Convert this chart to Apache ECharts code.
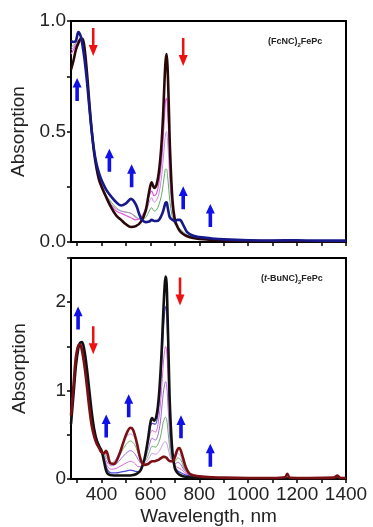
<!DOCTYPE html>
<html>
<head>
<meta charset="utf-8">
<script src="https://cdn.jsdelivr.net/npm/echarts@6/dist/echarts.min.js"></script>
<style>
  html, body { margin: 0; padding: 0; background: #fff; }
  #main { width: 373px; height: 527px; }
</style>
</head>
<body>
<div id="main"></div>
<script>
// ---- top panel: (FcNC)2FePc ----
var wlTop = [275, 285, 295, 305, 315, 322, 330, 340, 350, 360, 370, 380, 390, 400, 420, 440, 460, 480, 500, 520,
  540, 560, 580, 595, 605, 615, 625, 635, 645, 652, 658, 662, 666, 670, 675, 680, 690, 700, 710, 720,
  735, 750, 775, 800, 850, 900, 1000, 1100, 1200, 1300, 1400];
var topStart = [0.78, 0.82, 0.87, 0.90, 0.92, 0.92, 0.88, 0.77, 0.63, 0.50, 0.40, 0.33, 0.28, 0.25, 0.20, 0.155, 0.12, 0.10, 0.08, 0.068,
  0.072, 0.09, 0.14, 0.23, 0.27, 0.245, 0.26, 0.32, 0.44, 0.58, 0.74, 0.82, 0.85, 0.79, 0.62, 0.42, 0.19, 0.10, 0.07, 0.05,
  0.035, 0.026, 0.018, 0.014, 0.010, 0.007, 0.005, 0.004, 0.004, 0.003, 0.003];
var topMag = [0.85, 0.87, 0.89, 0.90, 0.91, 0.90, 0.86, 0.76, 0.62, 0.50, 0.40, 0.33, 0.28, 0.25, 0.20, 0.165, 0.14, 0.13, 0.12, 0.11,
  0.10, 0.11, 0.15, 0.21, 0.23, 0.21, 0.22, 0.27, 0.36, 0.47, 0.58, 0.64, 0.65, 0.60, 0.48, 0.33, 0.16, 0.09, 0.065, 0.05,
  0.035, 0.026, 0.018, 0.014, 0.010, 0.007, 0.005, 0.004, 0.004, 0.003, 0.003];
var topViolet = [0.87, 0.88, 0.90, 0.91, 0.91, 0.90, 0.85, 0.75, 0.62, 0.50, 0.40, 0.34, 0.29, 0.26, 0.21, 0.17, 0.15, 0.14, 0.135, 0.13,
  0.11, 0.105, 0.13, 0.18, 0.20, 0.18, 0.19, 0.22, 0.29, 0.37, 0.45, 0.49, 0.50, 0.46, 0.37, 0.26, 0.14, 0.085, 0.07, 0.055,
  0.04, 0.028, 0.02, 0.015, 0.011, 0.008, 0.006, 0.005, 0.005, 0.004, 0.004];
var topGreen = [0.88, 0.89, 0.90, 0.91, 0.91, 0.89, 0.85, 0.75, 0.62, 0.50, 0.40, 0.34, 0.29, 0.26, 0.21, 0.18, 0.155, 0.14, 0.135, 0.13,
  0.115, 0.10, 0.11, 0.14, 0.155, 0.14, 0.145, 0.17, 0.21, 0.26, 0.31, 0.33, 0.33, 0.30, 0.24, 0.18, 0.11, 0.08, 0.07, 0.06,
  0.045, 0.032, 0.022, 0.017, 0.012, 0.009, 0.006, 0.005, 0.005, 0.004, 0.004];
var topEnd = [0.91, 0.905, 0.91, 0.95, 0.93, 0.89, 0.83, 0.73, 0.61, 0.50, 0.41, 0.35, 0.31, 0.28, 0.235, 0.205, 0.18, 0.165, 0.175, 0.195,
  0.17, 0.11, 0.09, 0.093, 0.10, 0.095, 0.095, 0.10, 0.12, 0.14, 0.165, 0.178, 0.18, 0.16, 0.13, 0.11, 0.10, 0.095, 0.10, 0.10,
  0.075, 0.045, 0.028, 0.022, 0.016, 0.012, 0.008, 0.007, 0.008, 0.006, 0.006];

// ---- bottom panel: (t-BuNC)2FePc ----
var wlBot = [275, 285, 295, 305, 312, 320, 330, 340, 350, 360, 370, 380, 390, 400, 410, 418, 425, 435, 450, 470,
  490, 505, 518, 530, 545, 560, 575, 590, 600, 607, 615, 625, 635, 645, 652, 658, 662, 666, 670, 675,
  680, 690, 700, 710, 718, 730, 745, 760, 780, 800, 850, 900, 1000, 1100, 1150, 1160, 1170, 1250, 1350, 1365,
  1375, 1400];
var botStart = [0.62, 0.95, 1.28, 1.48, 1.54, 1.55, 1.45, 1.25, 1.00, 0.75, 0.56, 0.44, 0.37, 0.32, 0.20, 0.10, 0.06, 0.045, 0.04, 0.04,
  0.04, 0.04, 0.04, 0.045, 0.06, 0.10, 0.22, 0.45, 0.64, 0.69, 0.66, 0.72, 0.95, 1.40, 1.85, 2.18, 2.29, 2.22, 1.85, 1.30,
  0.80, 0.30, 0.12, 0.07, 0.05, 0.035, 0.025, 0.02, 0.015, 0.012, 0.01, 0.008, 0.006, 0.005, 0.005, 0.006, 0.005, 0.005, 0.005, 0.006,
  0.005, 0.005];
var botEnd = [0.72, 1.05, 1.38, 1.51, 1.52, 1.45, 1.28, 1.05, 0.80, 0.60, 0.48, 0.40, 0.35, 0.30, 0.29, 0.32, 0.28, 0.18, 0.17, 0.26,
  0.42, 0.53, 0.58, 0.55, 0.40, 0.22, 0.16, 0.17, 0.19, 0.20, 0.20, 0.21, 0.22, 0.24, 0.25, 0.25, 0.245, 0.24, 0.225, 0.21,
  0.20, 0.20, 0.25, 0.33, 0.35, 0.27, 0.13, 0.06, 0.04, 0.03, 0.02, 0.015, 0.012, 0.012, 0.02, 0.06, 0.015, 0.012, 0.015, 0.04,
  0.015, 0.012];
var wlMid = [275, 290, 305, 320, 335, 350, 365, 380, 395, 410, 425, 440, 460, 480, 500, 518, 535, 550, 565, 580,
  595, 607, 620, 635, 645, 652, 658, 662, 666, 670, 675, 680, 690, 700, 712, 725, 740, 760, 800, 900,
  1000, 1400];
var botMid1 = [0.62, 1.12, 1.50, 1.54, 1.35, 0.98, 0.65, 0.45, 0.36, 0.22, 0.10, 0.07, 0.07, 0.08, 0.09, 0.10, 0.09, 0.08, 0.12, 0.28,
  0.52, 0.63, 0.62, 0.85, 1.25, 1.62, 1.88, 1.95, 1.90, 1.62, 1.15, 0.72, 0.28, 0.13, 0.09, 0.07, 0.05, 0.035, 0.02, 0.01,
  0.008, 0.006];
var botMid2 = [0.64, 1.13, 1.50, 1.52, 1.32, 0.95, 0.63, 0.44, 0.35, 0.24, 0.14, 0.11, 0.12, 0.15, 0.18, 0.20, 0.18, 0.14, 0.15, 0.27,
  0.46, 0.55, 0.53, 0.70, 1.00, 1.28, 1.45, 1.50, 1.46, 1.25, 0.90, 0.58, 0.26, 0.15, 0.13, 0.11, 0.07, 0.045, 0.025, 0.012,
  0.009, 0.007];
var botMid3 = [0.66, 1.15, 1.51, 1.50, 1.28, 0.92, 0.60, 0.43, 0.34, 0.26, 0.18, 0.15, 0.17, 0.23, 0.29, 0.32, 0.29, 0.22, 0.17, 0.24,
  0.38, 0.46, 0.44, 0.55, 0.76, 0.96, 1.07, 1.10, 1.07, 0.92, 0.67, 0.44, 0.22, 0.17, 0.19, 0.16, 0.09, 0.05, 0.028, 0.013,
  0.01, 0.008];
var botMid4 = [0.68, 1.17, 1.51, 1.47, 1.24, 0.88, 0.57, 0.42, 0.33, 0.28, 0.22, 0.17, 0.21, 0.30, 0.39, 0.43, 0.39, 0.29, 0.19, 0.21,
  0.30, 0.37, 0.36, 0.42, 0.53, 0.64, 0.69, 0.70, 0.68, 0.59, 0.45, 0.33, 0.21, 0.20, 0.24, 0.21, 0.11, 0.055, 0.03, 0.014,
  0.011, 0.009];
var botMid5 = [0.70, 1.19, 1.52, 1.45, 1.20, 0.85, 0.55, 0.41, 0.32, 0.29, 0.25, 0.18, 0.23, 0.36, 0.47, 0.51, 0.47, 0.34, 0.19, 0.19,
  0.24, 0.29, 0.28, 0.31, 0.36, 0.40, 0.42, 0.42, 0.41, 0.37, 0.31, 0.26, 0.20, 0.22, 0.29, 0.25, 0.12, 0.06, 0.032, 0.015,
  0.012, 0.01];

// arrows [wavelength, absorption]
var topUp = [[300, 0.69], [432, 0.37], [523, 0.30], [734, 0.20], [845, 0.12]];
var topDown = [[366, 0.905], [734, 0.86]];
var botUp = [[304, 1.82], [419, 0.60], [511, 0.83], [725, 0.59], [845, 0.27]];
var botDown = [[366, 1.57], [721, 2.12]];

var xTicks = [300, 400, 500, 600, 700, 800, 900, 1000, 1100, 1200, 1300, 1400];
var xLabels = [400, 600, 800, 1000, 1200, 1400];

var FONT = 'Liberation Sans, Arial, sans-serif';
var upArrow = 'path://M5,0L10,10L7,10L7,24L3,24L3,10L0,10Z';
var downArrow = 'path://M3.6,0L6.4,0L6.4,17L10,17L5,28L0,17L3.6,17Z';

function pairs(wl, vals) {
  return wl.map(function (w, i) { return [w, vals[i]]; });
}
function curve(name, wl, vals, color, width, idx) {
  return {
    name: name, type: 'line', xAxisIndex: idx, yAxisIndex: idx,
    data: pairs(wl, vals), showSymbol: false, smooth: 0.35, silent: true,
    lineStyle: { color: color, width: width }
  };
}
function arrows(data, sym, size, color, idx) {
  return {
    type: 'scatter', xAxisIndex: idx, yAxisIndex: idx, data: data,
    symbol: sym, symbolSize: size, silent: true, z: 5,
    itemStyle: { color: color, opacity: 1 }
  };
}
function xAxisCfg(idx, showLabels) {
  return {
    type: 'value', gridIndex: idx, min: 275, max: 1400,
    name: showLabels ? 'Wavelength, nm' : '', nameLocation: 'middle', nameGap: 28,
    nameTextStyle: { fontSize: 19, color: '#222', fontFamily: FONT },
    axisLine: { show: true, onZero: false, lineStyle: { color: '#000', width: 2 } },
    axisTick: { show: true, inside: false, length: 4, customValues: xTicks, lineStyle: { color: '#000', width: 1.5 } },
    axisLabel: {
      show: showLabels, customValues: xLabels, fontSize: 19, color: '#222', fontFamily: FONT, margin: 6,
      formatter: function (v) { return String(v); }
    },
    splitLine: { show: false }
  };
}
function yAxisCfg(idx, max, interval, fmt) {
  return {
    type: 'value', gridIndex: idx, min: 0, max: max, interval: interval,
    name: 'Absorption', nameLocation: 'middle', nameGap: 42,
    nameTextStyle: { fontSize: 19, color: '#222', fontFamily: FONT },
    axisLine: { show: true, lineStyle: { color: '#000', width: 2 } },
    axisTick: { show: true, inside: false, length: 4, lineStyle: { color: '#000', width: 1.5 } },
    axisLabel: { fontSize: 19, color: '#222', fontFamily: FONT, margin: 5, formatter: fmt },
    splitLine: { show: false }
  };
}

var chart = echarts.init(document.getElementById('main'), null, { renderer: 'canvas' });
var option = {
  animation: false,
  backgroundColor: '#fff',
  title: [
    {
      left: 263, top: 31,
      text: '{a|(FcNC)}{s|2}{a|FePc}',
      textStyle: { rich: {
        a: { fontSize: 9, fontWeight: 'bold', color: '#222', fontFamily: FONT, lineHeight: 12 },
        s: { fontSize: 6, fontWeight: 'bold', color: '#222', fontFamily: FONT, lineHeight: 6, verticalAlign: 'bottom' }
      } }
    },
    {
      left: 256, top: 268,
      text: '{a|(}{i|t}{a|-BuNC)}{s|2}{a|FePc}',
      textStyle: { rich: {
        a: { fontSize: 9, fontWeight: 'bold', color: '#222', fontFamily: FONT, lineHeight: 12 },
        i: { fontSize: 9, fontWeight: 'bold', fontStyle: 'italic', color: '#222', fontFamily: FONT, lineHeight: 12 },
        s: { fontSize: 6, fontWeight: 'bold', color: '#222', fontFamily: FONT, lineHeight: 6, verticalAlign: 'bottom' }
      } }
    }
  ],
  grid: [
    { left: 71, width: 275, top: 21, height: 221, show: true, borderColor: '#000', borderWidth: 2, backgroundColor: 'transparent' },
    { left: 71, width: 275, top: 258, height: 224, show: true, borderColor: '#000', borderWidth: 2, backgroundColor: 'transparent' }
  ],
  xAxis: [xAxisCfg(0, false), xAxisCfg(1, true)],
  yAxis: [
    yAxisCfg(0, 1, 0.25, function (v) { return Math.abs(v * 2 - Math.round(v * 2)) < 1e-6 ? v.toFixed(1) : ''; }),
    yAxisCfg(1, 2.5, 0.5, function (v) { return Math.abs(v - Math.round(v)) < 1e-6 ? String(v) : ''; })
  ],
  series: [
    curve('green', wlTop, topGreen, '#5fae5f', 1, 0),
    curve('violet', wlTop, topViolet, '#c58be8', 1, 0),
    curve('magenta', wlTop, topMag, '#e05ad8', 1.2, 0),
    curve('start', wlTop, topStart, '#2a0808', 2.6, 0),
    curve('end', wlTop, topEnd, '#17188a', 2.6, 0),
    arrows(topUp, upArrow, [9, 23], '#1010e8', 0),
    arrows(topDown, downArrow, [9, 28], '#f01010', 0),

    curve('m5', wlMid, botMid5, '#c79be8', 1, 1),
    curve('m4', wlMid, botMid4, '#6fae6f', 1, 1),
    curve('m3', wlMid, botMid3, '#9a6ad8', 1, 1),
    curve('m2', wlMid, botMid2, '#d865d0', 1, 1),
    curve('m1', wlMid, botMid1, '#4a4ad6', 1.2, 1),
    curve('start', wlBot, botStart, '#111111', 2.6, 1),
    curve('end', wlBot, botEnd, '#7a0f14', 2.6, 1),
    arrows(botUp, upArrow, [9, 23], '#1010e8', 1),
    arrows(botDown, downArrow, [9, 28], '#f01010', 1)
  ]
};
chart.setOption(option);
</script>
</body>
</html>
